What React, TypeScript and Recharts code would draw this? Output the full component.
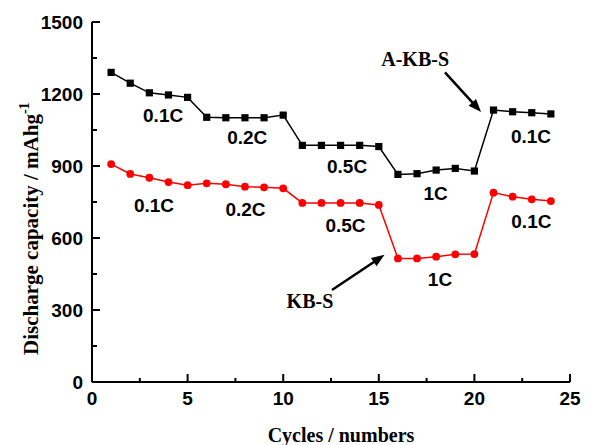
import React from 'react';
import { LineChart, Line, XAxis, YAxis, ReferenceDot, ReferenceLine } from 'recharts';

const cycles = [1, 2, 3, 4, 5, 6, 7, 8, 9, 10, 11, 12, 13, 14, 15, 16, 17, 18, 19, 20, 21, 22, 23, 24];
const akbs = [1290, 1245, 1205, 1196, 1186, 1103, 1101, 1101, 1101, 1112, 986, 986, 986, 986, 981, 865, 868, 883, 890, 879, 1133, 1126, 1122, 1117];
const kbs = [908, 867, 851, 833, 820, 828, 824, 814, 811, 807, 746, 746, 746, 746, 738, 515, 515, 522, 532, 533, 789, 772, 761, 754];

const xTicks = [0, 2.5, 5, 7.5, 10, 12.5, 15, 17.5, 20, 22.5, 25];
const yTicks = [0, 150, 300, 450, 600, 750, 900, 1050, 1200, 1350, 1500];

const rateLabels = [
  { x: 3.72, y: 1110, text: '0.1C' },
  { x: 8.12, y: 1021, text: '0.2C' },
  { x: 13.34, y: 900, text: '0.5C' },
  { x: 17.97, y: 785, text: '1C' },
  { x: 22.96, y: 1025, text: '0.1C' },
  { x: 3.24, y: 737, text: '0.1C' },
  { x: 8.03, y: 721, text: '0.2C' },
  { x: 13.26, y: 652, text: '0.5C' },
  { x: 18.2, y: 427, text: '1C' },
  { x: 22.98, y: 669, text: '0.1C' },
];

const seriesNames = [
  { x: 16.9, y: 1345, text: 'A-KB-S' },
  { x: 11.4, y: 336, text: 'KB-S' },
];

const arrows = [
  { x1: 18.46, y1: 1290, x2: 20.35, y2: 1125 },
  { x1: 12.55, y1: 383, x2: 15.3, y2: 530 },
];

const data = cycles.map((c, i) => ({ cycle: c, akbs: akbs[i], kbs: kbs[i] }));

const SANS = '"Liberation Sans", Arial, sans-serif';
const SERIF = '"Liberation Serif", "Times New Roman", serif';

const XTick = (props: any) => {
  const { x, y, payload } = props;
  const v = payload.value;
  const major = v % 5 === 0;
  return (
    <g>
      <line x1={x} y1={y} x2={x} y2={y - (major ? 8 : 4)} stroke="#000" strokeWidth={2} />
      {major && (
        <text x={x} y={y + 23} textAnchor="middle" fontFamily={SANS} fontWeight="bold" fontSize={19} fill="#000">
          {v}
        </text>
      )}
    </g>
  );
};

const YTick = (props: any) => {
  const { x, y, payload } = props;
  const v = payload.value;
  const major = v % 300 === 0;
  return (
    <g>
      <line x1={x} y1={y} x2={x + (major ? 8 : 5)} y2={y} stroke="#000" strokeWidth={2} />
      {major && (
        <text x={x - 9} y={y + 7} textAnchor="end" fontFamily={SANS} fontWeight="bold" fontSize={19} fill="#000">
          {v}
        </text>
      )}
    </g>
  );
};

const SquareDot = (props: any) => {
  const { cx, cy, index } = props;
  if (cx == null || cy == null) return <g key={index} />;
  return <rect key={index} x={cx - 3.6} y={cy - 3.6} width={7.2} height={7.2} fill="#000" />;
};

const CircleDot = (props: any) => {
  const { cx, cy, index } = props;
  if (cx == null || cy == null) return <g key={index} />;
  return <circle key={index} cx={cx} cy={cy} r={3.9} fill="#ff0000" />;
};

const ArrowShape = (props: any) => {
  const { x1, y1, x2, y2 } = props;
  if ([x1, y1, x2, y2].some((v) => v == null || isNaN(v))) return <g />;
  const dx = x2 - x1;
  const dy = y2 - y1;
  const len = Math.sqrt(dx * dx + dy * dy);
  const ux = dx / len;
  const uy = dy / len;
  const hl = 13;
  const hw = 5;
  const bx = x2 - ux * hl;
  const by = y2 - uy * hl;
  const px = -uy;
  const py = ux;
  return (
    <g>
      <line x1={x1} y1={y1} x2={bx + ux * 2} y2={by + uy * 2} stroke="#000" strokeWidth={2.5} />
      <polygon
        points={`${x2},${y2} ${bx + px * hw},${by + py * hw} ${bx - px * hw},${by - py * hw}`}
        fill="#000"
      />
    </g>
  );
};

const makeTextShape = (text: string, font: string, size: number) => (props: any) => {
  const { cx, cy } = props;
  if (cx == null || cy == null) return <g />;
  return (
    <text x={cx} y={cy + size * 0.355} textAnchor="middle" fontFamily={font} fontWeight="bold" fontSize={size} fill="#000">
      {text}
    </text>
  );
};

const XTitle = () => (
  <text x={341} y={442} textAnchor="middle" fontFamily={SERIF} fontWeight="bold" fontSize={20} fill="#000">
    Cycles / numbers
  </text>
);

const YTitle = () => (
  <text
    x={38}
    y={355}
    transform="rotate(-90, 38, 355)"
    textAnchor="start"
    fontFamily={SERIF}
    fontWeight="bold"
    fontSize={21}
    fill="#000"
  >
    Discharge capacity / mAhg
    <tspan dy={-9} fontSize={14}>-1</tspan>
  </text>
);

export default function App() {
  return (
    <div style={{ position: 'absolute', left: 0, top: 0, width: 593, height: 445, background: '#fff' }}>
      <LineChart width={593} height={445} data={data} margin={{ top: 22, right: 23, bottom: 0, left: 0 }}>
        <XAxis
          dataKey="cycle"
          type="number"
          domain={[0, 25]}
          ticks={xTicks}
          interval={0}
          height={63}
          tickSize={0}
          tickMargin={0}
          tickLine={false}
          tick={<XTick />}
          axisLine={{ stroke: '#000', strokeWidth: 2 }}
          label={{ content: <XTitle /> }}
        />
        <XAxis
          xAxisId="top"
          orientation="top"
          type="number"
          domain={[0, 25]}
          height={0}
          tick={false}
          tickLine={false}
          axisLine={{ stroke: '#000', strokeWidth: 2 }}
        />
        <YAxis
          type="number"
          domain={[0, 1500]}
          ticks={yTicks}
          interval={0}
          width={92}
          tickSize={0}
          tickMargin={0}
          tickLine={false}
          tick={<YTick />}
          axisLine={{ stroke: '#000', strokeWidth: 2 }}
          label={{ content: <YTitle /> }}
        />
        <YAxis
          yAxisId="right"
          orientation="right"
          type="number"
          domain={[0, 1500]}
          width={0}
          tick={false}
          tickLine={false}
          axisLine={{ stroke: '#000', strokeWidth: 2 }}
        />
        <Line
          dataKey="akbs"
          stroke="#000"
          strokeWidth={1.5}
          dot={SquareDot}
          activeDot={false}
          isAnimationActive={false}
        />
        <Line
          dataKey="kbs"
          stroke="#ff0000"
          strokeWidth={1.5}
          dot={CircleDot}
          activeDot={false}
          isAnimationActive={false}
        />
        {rateLabels.map((l, i) => (
          <ReferenceDot
            key={'rl' + i}
            x={l.x}
            y={l.y}
            r={0}
            shape={makeTextShape(l.text, SANS, 19)}
          />
        ))}
        {seriesNames.map((l, i) => (
          <ReferenceDot
            key={'sn' + i}
            x={l.x}
            y={l.y}
            r={0}
            shape={makeTextShape(l.text, SERIF, 20)}
          />
        ))}
        {arrows.map((a, i) => (
          <ReferenceLine
            key={'ar' + i}
            segment={[
              { x: a.x1, y: a.y1 },
              { x: a.x2, y: a.y2 },
            ]}
            shape={ArrowShape}
          />
        ))}
      </LineChart>
    </div>
  );
}
